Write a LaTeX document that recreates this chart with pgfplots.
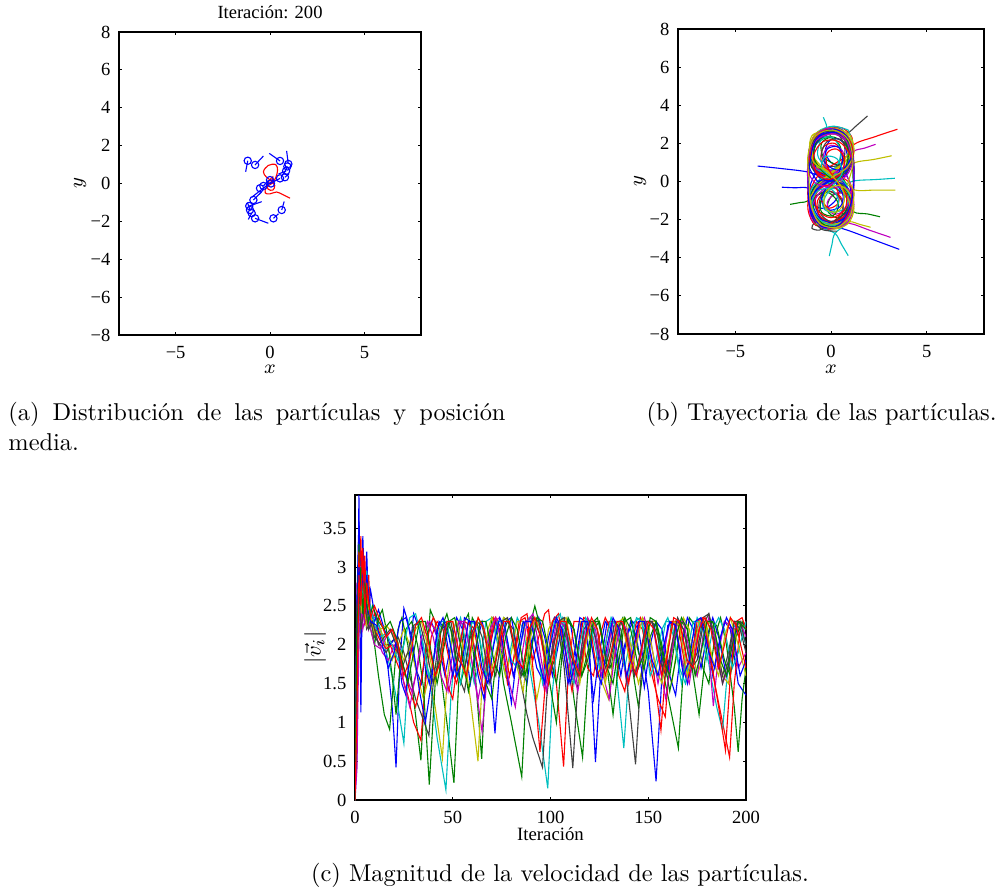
\documentclass[border=0pt]{standalone}
\usepackage{fontspec}
\usepackage{pgfplots}
\pgfplotsset{compat=1.18}
\newfontfamily\tms{Liberation Serif}
\definecolor{mb}{rgb}{0,0,1}
\definecolor{mg}{rgb}{0,0.5,0}
\definecolor{mr}{rgb}{1,0,0}
\definecolor{mc}{rgb}{0,0.75,0.75}
\definecolor{mm}{rgb}{0.75,0,0.75}
\definecolor{my}{rgb}{0.75,0.75,0}
\definecolor{mk}{rgb}{0.25,0.25,0.25}
\pgfplotsset{mstyle/.style={scale only axis, anchor=north west,
  axis line style={line width=0.6pt}, major tick length=1.3pt,
  tick style={black, line width=0.4pt},
  ticklabel style={font=\tms\fontsize{7.6}{9}\selectfont},
  label style={font=\fontsize{8.5}{10}\selectfont},
  every axis plot/.append style={line width=0.45pt}},
  traj/.style={smooth, tension=0.55}}
\begin{document}
\begin{tikzpicture}
\path[use as bounding box] (0pt,0pt) rectangle (410pt,-366.54pt);
% ---------------- (a)
\begin{axis}[mstyle, at={(48.79pt,-13.12pt)}, width=123.82pt, height=124.23pt,
  xmin=-8, xmax=8, ymin=-8, ymax=8,
  xtick={-5,0,5}, xticklabels={−5,0,5},
  ytick={-8,-6,-4,-2,0,2,4,6,8}, yticklabels={−8,−6,−4,−2,0,2,4,6,8},
  xticklabel style={yshift=-1.2pt},
  every axis title shift=0pt,
  title={Iteración: 200},
  title style={font=\tms\fontsize{7.6}{9}\selectfont, at={(0.5,1)}, anchor=base, yshift=5.7pt},
  xlabel={$x$}, xlabel style={at={(axis description cs:0.5,0)}, anchor=base, yshift=-16pt},
  ylabel={$y$}, ylabel style={at={(axis description cs:-0.129,0.5)}, anchor=center}]
\addplot[mr, smooth, tension=0.6] coordinates {(1.06,-0.78)(0.7,-0.6)(0.35,-0.45)(0.0,-0.55)(-0.25,-0.5)(-0.2,-0.2)(0.1,0.0)(0.3,0.3)(0.4,0.7)(0.3,1.0)(-0.1,0.95)(-0.35,0.62)(-0.2,0.35)(0.05,0.15)(0.25,-0.1)(0.15,-0.35)(-0.1,-0.3)(-0.15,-0.05)(0.0,0.2)(0.15,0.35)(0.1,0.1)(-0.05,0.0)};
\addplot[mb] coordinates {(-1.18,1.20)(-1.29,0.62)};
\addplot[mb] coordinates {(-0.79,0.98)(-0.35,1.45)};
\addplot[mb] coordinates {(0.53,1.19)(-0.04,1.59)};
\addplot[mb] coordinates {(0.97,1.03)(0.88,1.72)};
\addplot[mb] coordinates {(0.92,0.90)(0.75,0.55)};
\addplot[mb] coordinates {(0.85,0.66)(0.45,0.5)};
\addplot[mb] coordinates {(0.79,0.33)(1.0,0.5)};
\addplot[mb] coordinates {(0.53,0.27)(0.1,0.05)};
\addplot[mb] coordinates {(-0.35,-0.13)(-0.1,0.15)};
\addplot[mb] coordinates {(-0.97,-0.73)(0.09,0.1)};
\addplot[mb] coordinates {(-0.88,-0.87)(-0.45,-0.45)};
\addplot[mb] coordinates {(-1.10,-1.19)(-0.44,-0.96)};
\addplot[mb] coordinates {(-1.06,-1.40)(-1.2,-1.0)};
\addplot[mb] coordinates {(-0.97,-1.57)(-1.15,-1.9)};
\addplot[mb] coordinates {(-0.79,-1.84)(-0.09,-2.1)};
\addplot[mb] coordinates {(0.18,-1.84)(0.45,-1.6)};
\addplot[mb] coordinates {(0.62,-1.40)(0.75,-0.95)};
\addplot[only marks, mark=o, mb, mark size=1.5pt, mark options={line width=0.45pt}] coordinates {(-1.18,1.20)(-0.79,0.98)(0.53,1.19)(0.97,1.03)(0.92,0.90)(0.85,0.66)(0.79,0.33)(0.53,0.27)(0.0,0.18)(-0.35,-0.13)(-0.53,-0.25)(-0.88,-0.87)(-1.10,-1.19)(-1.06,-1.40)(-0.97,-1.57)(-0.79,-1.84)(0.18,-1.84)(0.62,-1.40)(0.05,0.0)};
\end{axis}
% ---------------- (b)
\begin{axis}[mstyle, at={(277.98pt,-11.89pt)}, width=125.46pt, height=125.05pt,
  xmin=-8, xmax=8, ymin=-8, ymax=8,
  xtick={-5,0,5}, xticklabels={−5,0,5},
  ytick={-8,-6,-4,-2,0,2,4,6,8}, yticklabels={−8,−6,−4,−2,0,2,4,6,8},
  xticklabel style={yshift=-1.2pt},
  xlabel={$x$}, xlabel style={at={(axis description cs:0.5,0)}, anchor=base, yshift=-16pt},
  ylabel={$y$}, ylabel style={at={(axis description cs:-0.124,0.5)}, anchor=center}]
\addplot[mb, traj] coordinates {(-3.84,0.81)(-2.6,0.68)(-1.27,0.51)(-0.5,0.25)(0.3,0.0)(0.95,-0.5)(1.1,-1.2)(0.75,-2.0)(0,-2.35)(-0.8,-1.9)(-1.1,-1.0)(-0.8,-0.2)(0,0.2)(0.8,0.55)(1.1,1.3)(0.8,2.2)(0,2.65)(-0.8,2.2)(-1.1,1.3)(-0.7,0.4)(0.1,0.0)(0.9,-0.5)(1.0,-1.2)(0.6,-2.0)(-0.1,-2.2)(-0.8,-1.7)(-0.95,-0.9)(-0.6,-0.25)(0.1,0.15)(0.85,0.6)(1.0,1.4)(0.7,2.3)(-0.1,2.6)(-0.9,2.0)(-1.0,1.1)(-0.5,0.4)(0.2,0.1)};
\addplot[mg, traj] coordinates {(-2.14,-1.2)(-1.6,-1.1)(-1.18,-1.0)(-0.8,-0.35)(0,0.05)(0.8,0.45)(1.05,1.2)(0.7,2.0)(0,2.35)(-0.75,2.0)(-1.0,1.2)(-0.75,0.4)(0,0.05)(0.75,-0.35)(1.0,-1.0)(0.7,-1.8)(0,-2.15)(-0.75,-1.8)(-1.05,-1.0)(-0.8,-0.25)(0.1,0.15)(0.9,0.6)(1.1,1.5)(0.6,2.4)(-0.2,2.6)(-0.95,2.0)(-1.1,1.0)(-0.6,0.2)(0.2,-0.3)(0.9,-1.0)(0.8,-1.8)(0.1,-2.3)};
\addplot[mr, traj] coordinates {(3.47,2.74)(2.3,2.35)(1.17,1.91)(1.1,1.1)(0.7,0.35)(0,0.0)(-0.75,-0.4)(-1.05,-1.1)(-0.7,-2.0)(0.1,-2.4)(0.85,-2.0)(1.1,-1.1)(0.8,-0.3)(0,0.1)(-0.8,0.5)(-1.1,1.3)(-0.75,2.2)(0,2.7)(0.8,2.25)(1.1,1.3)(0.75,0.45)(0,0.05)(-0.8,-0.4)(-1.0,-1.2)(-0.6,-2.1)(0.2,-2.35)(0.9,-1.8)(1.0,-0.9)(0.5,-0.2)(-0.3,0.2)};
\addplot[mc, traj] coordinates {(3.34,0.17)(2.3,0.1)(1.25,0.04)(0.6,-0.2)(-0.2,-0.45)(-0.9,-0.9)(-1.0,-1.7)(-0.5,-2.3)(0.3,-2.35)(0.95,-1.8)(1.0,-0.9)(0.5,-0.2)(-0.3,0.25)(-0.95,0.8)(-1.05,1.7)(-0.5,2.5)(0.3,2.6)(1.0,2.1)(1.1,1.2)(0.7,0.45)(0,0.1)(-0.7,-0.3)};
\addplot[mm, traj] coordinates {(2.33,1.95)(1.75,1.75)(1.17,1.56)(0.9,0.8)(0.3,0.2)(-0.5,-0.2)(-1.0,-0.9)(-0.9,-1.8)(-0.2,-2.3)(0.6,-2.1)(1.05,-1.4)(0.9,-0.5)(0.2,0.1)(-0.6,0.4)(-1.05,1.1)(-0.9,2.0)(-0.2,2.55)(0.6,2.4)(1.05,1.7)(0.85,0.8)(0.2,0.2)};
\addplot[my, traj] coordinates {(3.17,1.35)(2.2,1.15)(1.25,0.99)(0.7,0.5)(0,0.1)(-0.8,-0.35)(-1.1,-1.1)(-0.8,-1.95)(0,-2.3)(0.8,-1.95)(1.1,-1.1)(0.8,-0.35)(0,0.1)(-0.8,0.55)(-1.1,1.4)(-0.8,2.3)(0,2.7)(0.8,2.3)(1.1,1.4)(0.8,0.55)(0,0.1)(-0.75,-0.3)};
\addplot[mk, traj] coordinates {(1.91,3.44)(1.35,2.95)(0.82,2.53)(0.1,2.6)(-0.7,2.2)(-1.0,1.3)(-0.7,0.45)(0,0.05)(0.75,-0.35)(1.0,-1.1)(0.75,-1.9)(0,-2.25)(-0.75,-1.9)(-1.0,-1.1)(-0.75,-0.3)(0,0.1)(0.75,0.5)(1.0,1.3)(0.7,2.1)};
\addplot[mb, traj] coordinates {(3.57,-3.56)(2.2,-3.05)(0.82,-2.54)(0,-2.3)(-0.85,-1.8)(-1.1,-0.9)(-0.7,-0.1)(0.2,0.3)(0.95,0.9)(1.05,1.8)(0.5,2.6)(-0.3,2.75)(-1.0,2.1)(-1.15,1.2)(-0.6,0.4)(0.3,-0.1)(1.0,-0.8)(0.95,-1.7)(0.3,-2.2)(-0.6,-2.05)(-1.0,-1.2)(-0.75,-0.3)(0,0.1)(0.75,0.5)(1.0,1.3)(0.75,2.2)(0,2.5)(-0.7,2.1)(-0.95,1.2)(-0.6,0.5)};
\addplot[mg, traj] coordinates {(2.56,-1.85)(1.9,-1.7)(1.17,-1.58)(0.9,-0.8)(0.4,-0.1)(-0.4,0.3)(-1.0,0.9)(-1.0,1.8)(-0.4,2.5)(0.4,2.5)(1.0,1.9)(1.0,1.0)(0.5,0.3)(-0.3,-0.1)(-0.95,-0.7)(-1.05,-1.5)(-0.5,-2.2)(0.4,-2.2)(1.0,-1.5)(0.95,-0.6)(0.3,0.05)(-0.5,0.5)(-1.0,1.3)(-0.8,2.1)(0,2.4)};
\addplot[mr, traj] coordinates {(0.0,-2.55)(-0.7,-2.3)(-1.1,-1.5)(-0.9,-0.6)(-0.2,0.0)(0.6,0.4)(1.05,1.1)(0.9,2.0)(0.2,2.55)(-0.6,2.4)(-1.05,1.7)(-0.9,0.8)(-0.2,0.2)(0.6,-0.3)(1.05,-1.0)(0.85,-1.9)(0.1,-2.4)(-0.7,-2.1)};
\addplot[mc, traj] coordinates {(-0.09,-3.91)(0.05,-3.3)(0.21,-2.72)(0.9,-2.1)(1.05,-1.2)(0.7,-0.35)(0,0.05)(-0.75,0.45)(-1.05,1.3)(-0.7,2.2)(0.1,2.6)(0.8,2.2)(1.05,1.3)(0.7,0.45)(0,0.0)(-0.8,-0.45)(-1.05,-1.2)(-0.7,-2.05)(0.1,-2.4)};
\addplot[mc, traj] coordinates {(0.90,-3.89)(0.55,-3.3)(0.21,-2.72)(-0.5,-2.4)(-1.0,-1.7)(-0.95,-0.8)(-0.3,-0.1)(0.5,0.3)(1.0,1.0)(0.95,1.9)(0.4,2.5)(-0.4,2.6)(-0.95,2.1)};
\addplot[mc, traj] coordinates {(-0.4,3.37)(-0.25,3.0)(-0.14,2.7)(0.5,2.55)(1.0,2.0)(1.0,1.1)(0.5,0.4)(-0.3,0.0)(-0.9,-0.5)(-1.05,-1.3)(-0.6,-2.1)(0.2,-2.3)(0.9,-1.7)};
\addplot[mm, traj] coordinates {(3.11,-2.93)(2.0,-2.55)(0.99,-2.2)(0.3,-2.3)(-0.5,-2.1)(-1.0,-1.4)(-0.9,-0.5)(-0.2,0.1)(0.6,0.5)(1.05,1.2)(0.8,2.1)(0.1,2.5)(-0.7,2.2)(-1.05,1.4)(-0.8,0.5)(0,0.05)(0.8,-0.4)(1.05,-1.2)(0.7,-2.0)};
\addplot[my, traj] coordinates {(3.37,-0.45)(2.3,-0.45)(1.25,-0.45)(0.7,0.0)(0,0.4)(-0.7,0.9)(-0.95,1.7)(-0.5,2.4)(0.4,2.45)(0.95,1.8)(0.8,0.9)(0.1,0.2)(-0.6,-0.3)(-1.0,-1.0)(-0.7,-1.9)(0.1,-2.2)(0.85,-1.7)(0.95,-0.8)(0.4,-0.1)};
\addplot[my, traj] coordinates {(2.07,-2.4)(1.5,-2.25)(0.99,-2.11)(0.4,-2.3)(-0.4,-2.0)(-0.85,-1.3)(-0.8,-0.5)(-0.1,0.1)(0.7,0.6)(1.0,1.5)(0.6,2.4)(-0.3,2.6)(-0.95,1.9)(-0.9,1.0)(-0.3,0.3)(0.5,-0.3)(0.95,-1.1)};
\addplot[mb, traj] coordinates {(-2.57,-0.30)(-1.9,-0.33)(-1.18,-0.36)(-0.9,-1.0)(-0.6,-1.8)(0.1,-2.2)(0.8,-1.8)(1.05,-0.9)(0.7,-0.1)(0,0.25)(-0.8,0.6)(-1.05,1.4)(-0.7,2.2)(0.1,2.55)(0.85,2.1)(1.05,1.2)(0.6,0.4)(-0.2,0.0)(-0.9,-0.6)(-1.0,-1.4)};
\addplot[mk, traj] coordinates {(-0.4,-1.9)(-0.85,-2.15)(-1.0,-2.45)(-0.6,-2.55)(-0.2,-2.3)(0.5,-1.9)(0.95,-1.1)(0.7,-0.3)(0,0.1)};
% dense inner loops
\addplot[mb, traj] coordinates {(1.1,1.3)(0.55,2.43)(-0.55,2.43)(-1.1,1.3)(-0.55,0.17)(0.55,0.17)(0.9,1.0)(0.6,2.1)(0,2.2)(-0.3,1.6)(0,1.0)(0.6,0.7)(1.0,-0.2)(0.9,-1.2)(0.5,-2.0)(-0.5,-2.0)(-1.0,-1.0)(-0.5,0.0)(0.4,-0.2)(0.3,-0.9)(-0.3,-1.4)(-0.9,-1.2)(-1.1,-0.3)(-0.8,0.6)(-0.9,1.6)(-0.5,2.6)(0.4,2.8)(1.0,2.2)(1.15,1.2)(0.7,0.2)};
\addplot[mg, traj] coordinates {(-1.1,2.0)(-0.5,2.7)(0.4,2.7)(1.0,2.1)(0.9,1.2)(0.3,0.9)(-0.4,1.3)(-0.5,2.0)(0.0,2.3)(0.5,1.8)(0.4,0.9)(-0.2,0.3)(-0.9,-0.3)(-1.15,-1.2)(-0.8,-2.0)(0.0,-2.4)(0.8,-2.0)(1.0,-1.2)(0.6,-0.6)(0.0,-0.8)(-0.2,-1.5)(0.3,-1.9)(0.8,-1.5)(0.9,-0.5)(0.5,0.3)(-0.3,0.7)(-1.0,1.0)(-1.1,1.9)};
\addplot[mr, traj] coordinates {(0.0,2.85)(-0.8,2.5)(-1.15,1.6)(-0.9,0.7)(-0.3,0.3)(0.4,0.6)(0.6,1.4)(0.2,2.0)(-0.4,1.8)(-0.5,1.0)(0.1,0.4)(0.9,0.0)(1.1,-0.8)(0.8,-1.7)(0.1,-2.1)(-0.6,-1.8)(-0.7,-1.0)(-0.2,-0.5)(0.5,-0.8)(0.6,-1.5)(0.0,-2.2)(-0.8,-2.3)(-1.2,-1.5)(-1.1,-0.5)(-0.6,0.4)(0.3,1.0)(1.0,1.5)(1.1,2.3)(0.6,2.8)(0.0,2.85)};
\addplot[mc, traj] coordinates {(0.9,2.7)(0.1,2.9)(-0.7,2.6)(-1.1,1.8)(-1.0,0.9)(-0.4,0.5)(0.3,0.8)(0.5,1.6)(0.1,2.3)(-0.5,2.2)(-0.7,1.4)(-0.3,0.8)(0.4,0.3)(0.9,-0.4)(0.8,-1.3)(0.2,-1.6)(-0.4,-1.2)(-0.3,-0.5)(0.4,-0.4)(0.9,-1.0)(0.9,-1.9)(0.3,-2.45)(-0.5,-2.3)(-1.0,-1.6)(-1.1,-0.6)(-0.6,0.1)(0.3,0.4)(1.0,1.0)(1.15,1.9)(0.9,2.7)};
\addplot[mm, traj] coordinates {(-1.2,1.2)(-0.9,2.2)(-0.2,2.75)(0.6,2.6)(1.1,1.9)(1.1,1.0)(0.5,0.5)(-0.2,0.7)(-0.4,1.4)(0.0,1.9)(0.6,1.6)(0.7,0.8)(0.2,0.0)(-0.6,-0.4)(-1.1,-1.1)(-1.0,-2.0)(-0.3,-2.45)(0.5,-2.3)(1.0,-1.6)(0.9,-0.8)(0.3,-0.6)(-0.2,-1.1)(0.1,-1.7)(0.7,-1.5)(1.1,-0.6)(0.8,0.3)(0.0,0.5)(-0.8,0.7)(-1.2,1.2)};
\addplot[my, traj] coordinates {(-1.0,2.4)(0.0,2.8)(0.9,2.4)(1.1,1.6)(0.6,0.9)(0.0,0.4)(-0.7,-0.2)(-1.1,-1.0)(-0.9,-1.9)(0.0,-2.3)(0.9,-1.9)(1.1,-1.0)(0.7,-0.2)(0.0,0.4)(-0.6,0.9)(-1.1,1.6)(-1.0,2.4)(-0.4,2.6)(0.6,2.5)(1.0,1.8)(0.6,1.0)(-0.2,0.3)(-0.9,-0.5)(-1.0,-1.5)(-0.4,-2.2)(0.6,-2.1)(1.0,-1.3)(0.6,-0.4)(-0.2,0.3)(-0.8,1.0)(-1.0,1.9)(-0.4,2.6)};
\addplot[mk, traj] coordinates {(0.3,-2.6)(-0.5,-2.5)(-1.0,-1.8)(-0.9,-0.9)(-0.2,-0.5)(0.5,-0.9)(0.6,-1.7)(0.0,-2.1)(-0.6,-1.6)(-0.5,-0.7)(0.2,0.1)(0.9,0.6)(1.0,1.5)(0.5,2.2)(-0.2,2.1)(-0.5,1.4)(-0.1,0.8)(0.6,1.0)(0.7,1.9)(0.2,2.6)(-0.6,2.5)(-1.1,1.7)(-1.0,0.7)};
\addplot[mg, traj] coordinates {(0.2,0.0)(0.9,-0.6)(1.1,-1.5)(0.6,-2.25)(-0.3,-2.3)(-0.9,-1.6)(-0.8,-0.8)(-0.1,-0.6)(0.4,-1.2)(0.1,-1.8)(-0.5,-1.6)(-0.5,-0.9)(0.0,-0.2)(0.6,0.4)(0.9,1.3)(0.7,2.2)(0.0,2.6)(-0.7,2.2)(-0.9,1.3)(-0.5,0.6)(0.2,0.0)};
\addplot[mb, traj] coordinates {(-0.7,0.0)(-1.15,0.8)(-1.0,1.8)(-0.4,2.5)(0.5,2.5)(1.05,1.8)(0.9,0.9)(0.3,0.6)(-0.3,1.0)(-0.2,1.7)(0.4,1.8)(0.6,1.1)(0.3,0.3)(-0.4,-0.2)(-1.0,-0.8)(-1.05,-1.7)(-0.5,-2.3)(0.4,-2.3)(1.0,-1.7)(1.1,-0.8)(0.6,-0.1)(-0.1,-0.2)(-0.5,-0.9)(-0.2,-1.5)(0.5,-1.3)(0.6,-0.6)(0.0,0.1)(-0.7,0.0)};
\addplot[mr, traj] coordinates {(1.2,0.4)(1.0,1.4)(0.4,2.1)(-0.4,2.1)(-0.9,1.4)(-0.8,0.5)(-0.2,0.1)(0.5,0.4)(0.7,1.2)(0.3,1.7)(-0.2,1.5)(-0.2,0.8)(0.3,0.0)(0.8,-0.7)(0.7,-1.5)(0.0,-1.9)(-0.7,-1.5)(-0.8,-0.7)(-0.3,-0.2)(0.3,-0.4)(0.4,-1.1)(-0.1,-1.4)(-0.5,-1.0)};
\addplot[mm, traj] coordinates {(0.0,-0.3)(-0.8,-0.1)(-1.2,0.6)(-1.1,1.6)(-0.6,2.3)(0.2,2.5)(0.9,2.0)(1.15,1.1)(0.8,0.3)(0.1,-0.1)(-0.6,-0.6)(-1.0,-1.4)(-0.7,-2.2)(0.1,-2.5)(0.9,-2.1)(1.2,-1.2)(0.9,-0.4)(0.0,-0.3)};
\addplot[mc, traj] coordinates {(0.7,-0.3)(1.1,-1.0)(0.9,-1.9)(0.2,-2.3)(-0.6,-2.0)(-1.0,-1.2)(-0.7,-0.5)(0.0,-0.4)(0.4,-1.0)(0.1,-1.6)(-0.4,-1.4)(-0.3,-0.8)(0.2,-0.1)(0.6,0.5)(0.3,1.2)(-0.3,1.3)(-0.5,0.7)(0.0,0.3)};
\addplot[my, traj] coordinates {(-0.8,-2.2)(0.1,-2.5)(0.9,-2.2)(1.2,-1.4)(0.9,-0.5)(0.3,-0.2)(-0.3,-0.6)(-0.3,-1.4)(0.3,-1.6)(0.7,-1.0)(0.5,-0.2)(-0.2,0.5)(-0.9,1.0)(-1.1,1.9)(-0.7,2.6)(0.2,2.8)(1.0,2.4)(1.2,1.5)(0.8,0.7)(0.0,0.2)};
% big ovals
\addplot[mg, traj] coordinates {(1.15,0.2)(1.05,1.5)(0.6,2.5)(-0.3,2.75)(-1.0,2.1)(-1.2,0.8)(-1.15,-0.6)(-0.9,-1.8)(-0.2,-2.4)(0.7,-2.1)(1.15,-1.0)(1.15,0.2)};
\addplot[mr, traj] coordinates {(-1.15,0.3)(-1.05,1.6)(-0.5,2.6)(0.4,2.7)(1.05,2.0)(1.2,0.7)(1.1,-0.7)(0.8,-1.9)(0.0,-2.45)(-0.8,-2.0)(-1.2,-0.9)(-1.15,0.3)};
\addplot[mm, traj] coordinates {(1.2,-0.2)(1.1,1.2)(0.7,2.3)(-0.1,2.8)(-0.9,2.3)(-1.2,1.1)(-1.2,-0.3)(-1.0,-1.5)(-0.4,-2.35)(0.5,-2.3)(1.05,-1.5)(1.2,-0.2)};
\addplot[mb, traj] coordinates {(-1.2,-0.2)(-1.1,1.0)(-0.8,2.2)(0.0,2.75)(0.8,2.4)(1.15,1.3)(1.2,0.0)(1.0,-1.3)(0.4,-2.3)(-0.5,-2.35)(-1.1,-1.4)(-1.2,-0.2)};
\addplot[my, traj] coordinates {(0.9,0.0)(1.15,1.0)(0.9,2.2)(0.1,2.7)(-0.8,2.4)(-1.2,1.4)(-1.15,0.1)(-1.05,-1.2)(-0.6,-2.2)(0.3,-2.4)(1.0,-1.8)(1.2,-0.6)(0.9,0.0)};
\end{axis}
% ---------------- (c)
\begin{axis}[mstyle, at={(145.55pt,-202.95pt)}, width=160.31pt, height=125.05pt,
  xmin=0, xmax=200, ymin=0, ymax=3.93,
  xtick={0,50,100,150,200}, xticklabels={0,50,100,150,200},
  ytick={0,0.5,1,1.5,2,2.5,3,3.5}, yticklabels={0,0.5,1,1.5,2,2.5,3,3.5},
  xticklabel style={yshift=-1.2pt},
  xlabel={Iteración}, xlabel style={font=\tms\fontsize{7.7}{9}\selectfont, at={(axis description cs:0.5,0)}, anchor=base, yshift=-16.4pt},
  ylabel={$|\vec{v}_i|$}, ylabel style={font=\fontsize{9.5}{11}\selectfont, at={(axis description cs:-0.102,0.5)}, anchor=center}]
\addplot[mb] coordinates {(0,0)(1,0.6)(2,3.95)(3,1.13)(4,3.4)(5,2.6)(6,3.2)(7,2.4)(8,2.7)(10,2.4)(13,2.2)(16,1.9)(19,1.2)(21,0.42)(23,1.8)(25,2.47)(27,2.3)(31,1.7)(34,1.5)(37,2.1)(39,2.3)(42,2.1)(46,1.6)(49,2.0)(52,2.35)(55,2.2)(59,1.5)(62,2.0)(65,2.3)(68,2.0)(71.6,0.86)(74,1.7)(77,2.3)(80,2.35)(84,1.8)(88,1.5)(91,2.1)(94,2.35)(97,2.1)(101,1.6)(104,2.0)(107,2.35)(110,2.3)(114,1.7)(118,2.1)(120,1.9)(123,0.49)(126,1.8)(129,2.3)(132,2.25)(136,1.6)(139,2.1)(142,2.3)(145,2.2)(150,1.4)(154,0.24)(157,1.6)(160,2.25)(163,2.3)(167,1.8)(170,1.5)(173,2.0)(176,2.3)(179,2.25)(183,1.6)(186,2.0)(189,2.3)(192,2.2)(196,1.5)(200,1.35)};
\addplot[mg] coordinates {(0,0)(1,1.5)(2,3.1)(3,2.2)(4,2.9)(5,2.3)(7,2.6)(9,2.2)(12,1.6)(15,1.1)(17.7,0.91)(20,1.6)(22,2.2)(24,2.35)(27,2.0)(30,1.3)(33.7,0.51)(36,1.6)(38.5,2.45)(41,2.3)(44,1.6)(47,1.0)(50.6,0.22)(53,1.5)(56,2.3)(58,2.4)(61,1.8)(64.8,0.53)(67,1.7)(70,2.35)(72,2.3)(76,1.5)(80,1.0)(85.3,0.30)(88,1.6)(90,2.3)(92,2.5)(95,2.2)(99,1.6)(102,1.8)(105,2.3)(108,2.2)(112,1.3)(116.4,0.55)(119,1.6)(122,2.3)(124,2.35)(128,1.9)(131,1.7)(134,2.2)(137,2.35)(140,2.0)(145,1.2)(148,1.8)(151,2.3)(154,2.25)(158,1.6)(162,1.1)(165.4,0.67)(168,1.7)(171,2.35)(174,2.25)(178,1.7)(181,1.5)(184,2.1)(187,2.35)(190,2.0)(194,1.2)(196,0.62)(198,1.3)(200,1.7)};
\addplot[mr] coordinates {(0,0)(1,2.2)(2,2.5)(3,3.4)(4,2.3)(5,3.15)(6,2.3)(7,2.9)(8,2.3)(10,2.4)(12,2.2)(15,2.0)(18,2.0)(21,1.8)(24,1.6)(27,1.35)(30,1.0)(33.7,0.77)(36,1.5)(39,2.1)(42,2.3)(45,2.2)(49,1.7)(52,1.5)(55,1.9)(58,2.3)(61,2.2)(65,1.6)(68,1.9)(71,2.35)(74,2.2)(78,1.5)(81,1.8)(84,2.3)(87,2.35)(91,1.8)(94,2.1)(97,2.4)(99,2.45)(102,1.8)(106.7,0.43)(109,1.6)(112,2.3)(115,2.3)(119,1.7)(122,1.6)(125,2.1)(128,2.35)(131,2.2)(135,1.6)(138,1.4)(141,1.9)(144,2.3)(147,2.2)(151,1.7)(155,1.3)(158.7,1.07)(161,1.8)(164,2.3)(167,2.2)(171,1.6)(174,1.9)(177,2.3)(180,2.2)(184,1.5)(188,1.0)(191.6,0.55)(194,1.5)(197,2.2)(200,2.3)};
\addplot[mc] coordinates {(0,0)(1,2.4)(2,3.3)(3,2.5)(4,2.9)(5,2.4)(6,2.95)(8,2.4)(10,2.35)(13,2.2)(16,1.9)(19,1.6)(22,1.2)(25,0.73)(27,1.6)(30,2.2)(32,2.3)(35,2.0)(39,1.4)(42,0.8)(46.5,0.13)(49,1.3)(52,2.2)(54,2.35)(57,2.0)(61,1.5)(64,1.8)(67,2.3)(70,2.35)(73,2.0)(77,1.6)(80,2.0)(83,2.35)(86,2.2)(90,1.6)(94,1.0)(98.6,0.15)(101,1.4)(104,2.2)(106,2.35)(109,2.1)(113,1.6)(116,1.85)(119,2.3)(122,2.25)(126,1.7)(129,1.8)(131,2.3)(133,1.8)(137.5,0.67)(140,1.6)(143,2.3)(146,2.35)(149,2.0)(153,1.6)(156,1.9)(159,2.3)(162,2.3)(166,1.7)(169,1.5)(172,2.0)(175,2.35)(178,2.2)(182,1.6)(185,1.2)(188,0.9)(190,1.5)(193,2.2)(196,2.3)(200,2.0)};
\addplot[mm] coordinates {(0,0)(1,2.8)(2,2.4)(3,2.9)(4,2.3)(5,2.6)(7,2.2)(9,2.4)(11,2.1)(14,1.9)(17,1.8)(20,2.0)(23,1.9)(26,1.6)(29,1.4)(32,1.7)(35,2.1)(38,2.3)(41,2.2)(45,1.8)(48,1.4)(51,1.8)(54,2.3)(57,2.2)(61,1.6)(65,0.88)(68,1.7)(71,2.3)(74,2.35)(77,2.1)(81,1.6)(84,1.9)(87,2.3)(90,2.35)(93,2.0)(97,1.4)(100,1.8)(103,2.3)(106,2.2)(110,1.6)(113,1.5)(116,2.0)(119,2.35)(122,2.2)(126,1.6)(129,1.9)(132,2.3)(135,2.2)(139,1.5)(142,1.7)(145,2.2)(148,2.35)(151,2.1)(155,1.5)(158,1.9)(161,2.3)(164,2.25)(168,1.7)(171,1.5)(174,2.0)(177,2.3)(180,2.2)(183.3,1.21)(186,1.9)(189,2.3)(192,2.25)(196,1.7)(200,1.9)};
\addplot[my] coordinates {(0,0)(1,2.2)(2,3.2)(3,2.3)(4,2.95)(5,2.35)(6,2.6)(8,2.3)(10,2.1)(13,2.2)(16,2.0)(19,1.8)(22,2.0)(25,2.2)(28,2.0)(32,1.6)(35,1.3)(38,1.6)(41,1.2)(44.7,0.54)(47,1.5)(50,2.2)(52,2.3)(55,2.0)(59,1.3)(62.9,0.50)(65,1.5)(68,2.2)(70,2.35)(73,2.1)(77,1.6)(80,1.9)(83,2.3)(86,2.3)(89,1.9)(93,1.3)(96,1.7)(99,2.2)(102,2.35)(105,2.1)(109,1.6)(112,1.9)(115,2.3)(118,2.3)(122,1.9)(125,1.6)(129.7,1.3)(132,1.8)(135,2.3)(138,2.35)(141,2.0)(145,1.5)(148,1.8)(151,2.3)(154,2.3)(158,1.8)(162,1.5)(165,2.0)(168,2.35)(171,2.2)(175,1.6)(178,1.85)(181,2.3)(184,2.2)(188,1.6)(191,1.5)(194,2.0)(197,2.3)(200,2.2)};
\addplot[mk] coordinates {(0,0)(1,2.0)(2,2.9)(3,2.3)(4,2.6)(6,2.2)(8,2.3)(10,2.1)(13,2.0)(16,1.9)(19,2.05)(22,2.1)(25,1.9)(28,1.6)(31,1.3)(34,1.1)(37.8,0.83)(40,1.5)(43,2.1)(46,2.3)(49,2.2)(53,1.6)(56,1.4)(59,1.9)(62,2.3)(65,2.25)(69,1.8)(72,1.6)(75,2.1)(78,2.3)(81,2.2)(85,1.5)(88,1.1)(91,0.8)(95.9,0.42)(98,1.3)(101,2.0)(104,2.2)(107,1.7)(111.4,0.41)(114,1.5)(117,2.2)(120,2.3)(123,2.1)(127,1.6)(130,1.9)(133,2.3)(136,2.2)(140,1.3)(143.5,0.46)(146,1.5)(149,2.2)(152,2.3)(155,2.1)(159,1.6)(162,1.9)(165,2.3)(168,2.2)(172,1.7)(175,1.9)(178,2.35)(181,2.4)(184,2.1)(188,1.6)(191,1.9)(194,2.3)(197,2.2)(200,1.9)};
\addplot[mb] coordinates {(0,0.1)(1,2.6)(2,3.6)(3,2.4)(4,3.2)(5,2.3)(6,2.9)(8,2.4)(10,2.3)(12,2.45)(15,2.2)(18,2.0)(21,2.1)(24,1.5)(26,1.35)(28,1.9)(30,2.4)(33,2.2)(36,1.7)(38,1.5)(40,1.8)(43,2.3)(46,2.2)(50,1.6)(53,1.9)(56,2.35)(59,2.3)(63,1.6)(66,1.3)(69,2.0)(72,2.3)(75,2.1)(80,1.25)(83,1.9)(86,2.3)(89,2.2)(93,1.7)(96,1.55)(99,2.1)(102,2.35)(105,2.2)(109,1.5)(112,1.85)(115,2.35)(118,2.3)(122,1.3)(125,1.9)(128,2.3)(131,2.2)(135,1.7)(138,2.0)(141,2.3)(144,2.1)(148,1.45)(151,2.0)(154,2.3)(157,2.2)(161,1.6)(164,1.35)(167,2.0)(170,2.35)(173,2.2)(177,1.7)(180,2.1)(183,2.35)(186,2.1)(190,1.6)(193,1.9)(196,2.3)(200,2.25)};
\addplot[mg] coordinates {(0,0)(1,2.0)(2,3.3)(3,2.5)(4,2.8)(6,2.4)(8,2.2)(10,2.0)(12,2.35)(14,2.45)(16,2.2)(19,1.6)(21,1.1)(23,1.7)(26,2.2)(29,2.3)(32,2.0)(35,1.45)(38,0.2)(41,1.5)(44,2.2)(47,2.4)(50,2.1)(54,1.5)(57,1.8)(60,2.35)(63,2.2)(67,1.5)(70,1.3)(73,2.0)(76,2.35)(79,2.3)(83,1.8)(86,1.6)(89,2.1)(92,2.3)(95,2.1)(99,1.6)(103,1.0)(106,1.9)(109,2.3)(112,2.2)(116,1.6)(119,1.8)(122,2.2)(125,2.3)(128,1.9)(132,1.1)(135,1.8)(138,2.3)(141,2.35)(145,1.9)(148,1.7)(151,2.1)(154,2.3)(157,2.0)(161,1.4)(164,1.8)(167,2.3)(170,2.2)(173,1.6)(176,1.1)(179,1.8)(182,2.3)(185,2.25)(189,1.8)(192,1.6)(195,2.1)(198,2.3)(200,2.2)};
\addplot[mr] coordinates {(0,0)(1,1.0)(2,3.2)(3,2.2)(4,3.0)(5,2.25)(6,2.7)(8,2.35)(10,2.2)(13,2.05)(16,1.95)(19,2.0)(22,1.9)(25,1.7)(28,1.4)(31,1.2)(34,1.55)(37,2.1)(40,2.35)(43,2.2)(47,1.5)(50,1.3)(53,1.9)(56,2.3)(59,2.25)(63,1.7)(66,1.4)(69,2.0)(72,2.35)(75,2.2)(79,1.6)(82,1.9)(85,2.35)(88,2.4)(91,1.7)(94.6,0.62)(98,1.7)(101,2.3)(104,2.4)(107,2.0)(111,1.4)(114,1.9)(117,2.35)(120,2.3)(124,1.6)(127,1.8)(130,2.3)(133,2.3)(137,1.8)(140,1.5)(143,2.0)(146,2.35)(149,2.2)(153,1.6)(156.5,0.9)(159,1.7)(162,2.3)(165,2.3)(169,1.7)(172,1.8)(175,2.3)(178,2.35)(182,1.8)(186,1.2)(189.5,0.64)(192,1.6)(195,2.3)(198,2.35)(200,2.2)};
\addplot[mc] coordinates {(0,0)(1,1.8)(2,2.9)(3,2.35)(4,2.7)(6,2.35)(8,2.5)(10,2.25)(13,2.1)(16,2.15)(19,2.0)(22,1.8)(25,2.0)(28,2.35)(31,2.4)(34,2.1)(38,1.6)(41,1.9)(44,2.3)(47,2.3)(51,1.7)(54,1.5)(57,2.0)(60,2.3)(63,2.2)(67,1.6)(70,1.9)(73,2.3)(76,2.3)(80,1.8)(83,1.7)(86,2.2)(89,2.35)(92,2.1)(96,1.5)(99,1.9)(102,2.3)(105,2.4)(108,2.0)(112,1.5)(115,2.0)(118,2.35)(121,2.2)(125,1.7)(128,2.0)(131,2.35)(134,2.2)(138,1.7)(141,2.1)(144,2.35)(147,2.3)(151,1.6)(154,1.8)(157,2.2)(160,2.35)(163,2.1)(167,1.5)(170,1.9)(173,2.3)(176,2.3)(180,1.8)(183,2.2)(186,2.35)(189,2.2)(193,1.7)(196,1.9)(200,2.3)};
\addplot[mm] coordinates {(0,0)(1,0.4)(2,2.1)(3,2.5)(4,2.2)(6,2.45)(8,2.2)(10,2.0)(13,1.95)(16,2.1)(19,2.2)(22,2.0)(25,1.5)(28,1.2)(31,1.6)(34,2.1)(37,2.3)(40,2.1)(44,1.6)(47,1.4)(50,1.9)(53,2.3)(56,2.3)(59,1.9)(63,1.3)(66,1.7)(69,2.2)(72,2.35)(75,2.0)(79,1.5)(82,1.2)(85,1.8)(88,2.3)(91,2.4)(94,2.0)(98,1.4)(101,1.9)(104,2.3)(107,2.25)(111,1.7)(114,1.4)(117,1.9)(120,2.3)(123,2.2)(127,1.6)(130,1.3)(133,1.9)(136,2.3)(139,2.2)(143,1.6)(146,1.8)(149,2.3)(152,2.3)(156,1.7)(159,1.3)(162,1.9)(165,2.3)(168,2.3)(172,1.8)(175,1.6)(178,2.1)(181,2.35)(184,2.1)(188,1.5)(191,1.7)(194,2.2)(197,2.3)(200,2.1)};
\addplot[my] coordinates {(0,0)(1,1.6)(2,2.75)(3,2.4)(4,2.6)(6,2.25)(8,2.4)(10,2.15)(13,2.2)(16,2.25)(19,2.15)(22,2.0)(25,1.8)(28,1.95)(31,2.2)(34,2.3)(37,2.0)(41,1.5)(44,1.9)(47,2.3)(50,2.3)(54,1.8)(57,1.55)(60,2.0)(63,2.35)(66,2.2)(70,1.7)(73,2.0)(76,2.35)(79,2.3)(83,1.7)(86,1.4)(89,2.0)(92,2.35)(95,2.2)(99,1.7)(102,1.9)(105,2.3)(108,2.35)(112,1.8)(115,1.5)(118,2.0)(121,2.3)(124,2.2)(128,1.5)(131,1.9)(134,2.3)(137,2.25)(141,1.7)(144,2.0)(147,2.35)(150,2.2)(154,1.7)(157,1.5)(160,2.0)(163,2.3)(166,2.25)(170,1.6)(173,1.9)(176,2.3)(179,2.3)(183,1.8)(186,1.6)(189,2.1)(192,2.35)(195,2.1)(200,1.6)};
\addplot[mk] coordinates {(0,0)(1,2.5)(2,2.8)(3,2.2)(5,2.5)(7,2.2)(9,2.3)(12,2.0)(15,2.1)(18,2.2)(21,2.0)(24,1.7)(27,1.9)(30,2.25)(33,2.3)(36,2.0)(40,1.5)(43,1.8)(46,2.25)(49,2.3)(53,1.8)(56,1.7)(59,2.1)(62,2.3)(65,2.1)(69,1.5)(72,1.8)(75,2.3)(78,2.35)(82,1.9)(85,1.6)(88,2.0)(91,2.35)(94,2.3)(98,1.7)(101,1.9)(104,2.3)(107,2.35)(110,1.9)(114,1.6)(117,2.0)(120,2.3)(123,2.3)(127,1.8)(130,1.7)(133,2.1)(136,2.3)(139,2.1)(143,1.6)(146,1.9)(149,2.3)(152,2.3)(156,1.8)(159,1.6)(162,2.0)(165,2.35)(168,2.2)(172,1.7)(175,1.8)(178,2.25)(181,2.4)(184,2.0)(188,1.5)(191,1.8)(194,2.3)(197,2.3)(200,2.0)};
\addplot[mb] coordinates {(0,0)(1,1.8)(2,3.0)(3,2.6)(4,2.9)(6,2.5)(8,2.3)(11,2.25)(14,2.0)(17,1.7)(20,1.9)(23,2.3)(26,2.35)(29,2.1)(33,1.4)(36,1.0)(39,1.5)(42,2.2)(45,2.35)(48,2.1)(52,1.6)(55,1.8)(58,2.3)(61,2.3)(65,1.7)(68,1.5)(71,2.0)(74,2.35)(77,2.2)(81,1.6)(84,1.9)(87,2.3)(90,2.3)(94,1.8)(97,1.5)(100,2.0)(103,2.35)(106,2.2)(110,1.5)(113,1.8)(116,2.3)(119,2.3)(123,1.7)(126,1.5)(129,2.0)(132,2.35)(135,2.2)(139,1.6)(142,1.9)(145,2.3)(148,2.3)(152,1.8)(155,1.6)(158,2.0)(161,2.3)(164,2.25)(168,1.6)(171,1.8)(174,2.3)(177,2.35)(181,1.9)(184,1.7)(187,2.1)(190,2.35)(193,2.2)(197,1.6)(200,1.8)};
\addplot[mg] coordinates {(0,0)(1,2.3)(2,2.6)(3,3.0)(4,2.4)(5,2.8)(7,2.3)(9,2.5)(12,2.3)(15,2.2)(18,2.3)(21,2.1)(24,1.8)(27,1.5)(30,1.9)(33,2.3)(36,2.3)(39,1.9)(42,1.5)(45,1.9)(48,2.3)(51,2.35)(54,2.0)(58,1.4)(61,1.8)(64,2.3)(67,2.3)(71,1.8)(74,1.6)(77,2.1)(80,2.35)(83,2.2)(87,1.6)(90,1.9)(93,2.35)(96,2.3)(100,1.8)(103,1.5)(106,2.0)(109,2.35)(112,2.2)(116,1.6)(119,1.9)(122,2.3)(125,2.3)(129,1.7)(132,1.5)(135,2.0)(138,2.35)(141,2.2)(145,1.7)(148,1.9)(151,2.35)(154,2.3)(158,1.8)(161,1.6)(164,2.1)(167,2.35)(170,2.2)(174,1.6)(177,1.9)(180,2.3)(183,2.3)(187,1.8)(190,1.6)(193,2.0)(196,2.3)(200,2.2)};
\addplot[mr] coordinates {(0,0)(1,1.2)(2,2.9)(3,2.5)(4,3.25)(5,2.4)(6,2.8)(8,2.35)(10,2.5)(13,2.3)(16,2.1)(19,2.2)(22,2.0)(25,1.6)(28,1.8)(31,2.25)(34,2.35)(37,2.1)(41,1.6)(44,1.8)(47,2.3)(50,2.3)(54,1.8)(57,1.6)(60,2.1)(63,2.35)(66,2.2)(70,1.6)(73,1.9)(76,2.3)(79,2.3)(83,1.8)(86,1.7)(89,2.2)(92,2.35)(95,2.1)(99,1.5)(102,1.9)(105,2.3)(108,2.3)(112,1.8)(115,1.6)(118,2.1)(121,2.35)(124,2.2)(128,1.6)(131,1.9)(134,2.3)(137,2.3)(141,1.8)(144,1.6)(147,2.0)(150,2.3)(153,2.2)(157,1.6)(160,1.9)(163,2.35)(166,2.3)(170,1.8)(173,1.7)(176,2.2)(179,2.35)(182,2.2)(186,1.7)(189,2.0)(192,2.35)(195,2.25)(200,1.7)};
\end{axis}
% ---------------- captions
\node[anchor=base west, inner sep=0, font=\fontsize{10}{12}\selectfont] at (3.28pt,-172.6pt) {\makebox[203.8pt][s]{(a) Distribución de las partículas y posición}};
\node[anchor=base west, inner sep=0, font=\fontsize{10}{12}\selectfont] at (3.28pt,-184.5pt) {media.};
\node[anchor=base east, inner sep=0, font=\fontsize{10}{12}\selectfont] at (408.8pt,-172.6pt) {(b) Trayectoria de las partículas.};
\node[anchor=base, inner sep=0, font=\fontsize{10}{12}\selectfont] at (229.6pt,-361.6pt) {(c) Magnitud de la velocidad de las partículas.};
\end{tikzpicture}
\end{document}
